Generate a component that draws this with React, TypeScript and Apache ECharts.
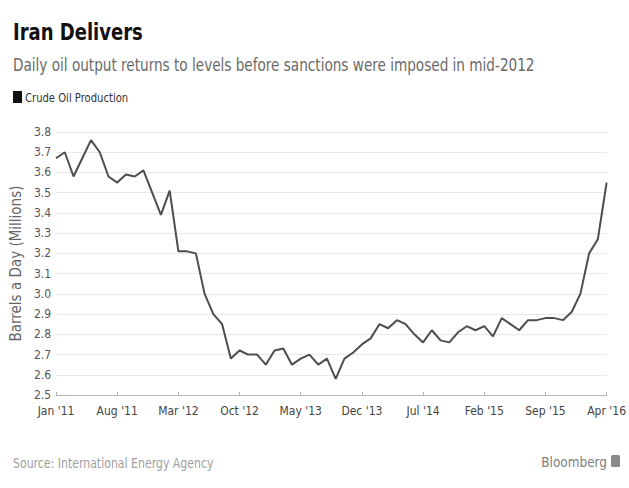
import React, { useEffect, useRef } from "react";
import * as echarts from "echarts";

const MONTH_NAMES = ["Jan", "Feb", "Mar", "Apr", "May", "Jun", "Jul", "Aug", "Sep", "Oct", "Nov", "Dec"];
const categories: string[] = [];
for (let i = 0; i < 64; i++) {
  const m = i % 12;
  const y = 11 + Math.floor(i / 12);
  categories.push(`${MONTH_NAMES[m]} '${y}`);
}

const production = [
  3.67, 3.70, 3.58, 3.67, 3.76, 3.70, 3.58, 3.55, 3.59, 3.58, 3.61, 3.50,
  3.39, 3.51, 3.21, 3.21, 3.20, 3.00, 2.90, 2.85, 2.68, 2.72, 2.70, 2.70,
  2.65, 2.72, 2.73, 2.65, 2.68, 2.70, 2.65, 2.68, 2.58, 2.68, 2.71, 2.75,
  2.78, 2.85, 2.83, 2.87, 2.85, 2.80, 2.76, 2.82, 2.77, 2.76, 2.81, 2.84,
  2.82, 2.84, 2.79, 2.88, 2.85, 2.82, 2.87, 2.87, 2.88, 2.88, 2.87, 2.91,
  3.00, 3.20, 3.27, 3.55,
];

const TITLE = "Iran Delivers";
const SUBTITLE = "Daily oil output returns to levels before sanctions were imposed in mid-2012";
const LEGEND = "Crude Oil Production";
const Y_NAME = "Barrels a Day (Millions)";
const SOURCE = "Source: International Energy Agency";
const BRAND = "Bloomberg";

const FONT = "'DejaVu Sans Condensed', 'DejaVu Sans', sans-serif";

export default function App() {
  const ref = useRef<HTMLDivElement>(null);
  useEffect(() => {
    if (!ref.current) return;
    const chart = echarts.init(ref.current, null, { renderer: "svg" });
    chart.setOption({
      animation: false,
      backgroundColor: "#ffffff",
      textStyle: { fontFamily: FONT },
      grid: { left: 40, right: 22, top: 132, bottom: 93 },
      xAxis: {
        type: "category",
        data: categories,
        boundaryGap: false,
        axisLine: { lineStyle: { color: "#b5b5b5", width: 1 } },
        axisTick: { interval: 6, inside: true, length: 3, lineStyle: { color: "#b5b5b5" } },
        axisLabel: { interval: 6, color: "#444444", fontSize: 12, fontFamily: FONT, margin: 10 },
        splitLine: { show: false },
      },
      yAxis: {
        type: "value",
        min: 2.5,
        max: 3.8,
        interval: 0.1,
        name: Y_NAME,
        nameLocation: "middle",
        nameGap: 20,
        nameTextStyle: { color: "#666666", fontSize: 15, fontFamily: FONT },
        axisLine: { show: false },
        axisTick: { show: false },
        axisLabel: {
          color: "#555555",
          fontSize: 12,
          fontFamily: FONT,
          margin: 5,
          formatter: (v: number) => v.toFixed(1),
        },
        splitLine: { lineStyle: { color: "#e8e8e8", width: 1 } },
      },
      series: [
        {
          type: "line",
          name: LEGEND,
          data: production,
          showSymbol: false,
          lineStyle: { color: "#4d4d4d", width: 2 },
        },
      ],
      graphic: [
        {
          type: "text",
          x: 13,
          y: 32,
          scaleX: 0.87,
          style: { x: 0, y: 0, text: TITLE, font: `bold 23px ${FONT}`, fill: "#111111", verticalAlign: "middle" },
        },
        {
          type: "text",
          x: 13,
          y: 65,
          scaleX: 0.89,
          style: { x: 0, y: 0, text: SUBTITLE, font: `17px ${FONT}`, fill: "#6a6a6a", verticalAlign: "middle" },
        },
        {
          type: "rect",
          shape: { x: 13, y: 91, width: 9, height: 12 },
          style: { fill: "#111111" },
        },
        {
          type: "text",
          x: 25,
          y: 98,
          scaleX: 0.93,
          style: { x: 0, y: 0, text: LEGEND, font: `12px ${FONT}`, fill: "#333333", verticalAlign: "middle" },
        },
        {
          type: "text",
          x: 13,
          y: 463,
          scaleX: 0.87,
          style: { x: 0, y: 0, text: SOURCE, font: `14px ${FONT}`, fill: "#a0a0a0", verticalAlign: "middle" },
        },
        {
          type: "text",
          x: 607,
          y: 462,
          scaleX: 0.96,
          style: { x: 0, y: 0, text: BRAND, font: `14px ${FONT}`, fill: "#808080", align: "right", verticalAlign: "middle" },
        },
        {
          type: "rect",
          shape: { x: 611, y: 455, width: 9, height: 12, r: 1.5 },
          style: { fill: "#8a8a8a" },
        },
      ],
    });
    return () => chart.dispose();
  }, []);
  return <div ref={ref} style={{ position: "fixed", left: 0, top: 0, width: 629, height: 488 }} />;
}
